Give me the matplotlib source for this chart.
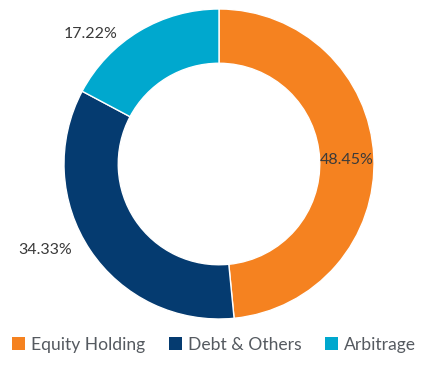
import matplotlib.pyplot as plt
from matplotlib.patches import Patch

# Dados
categorias = ["Equity Holding", "Debt & Others", "Arbitrage"]
valores = [48.45, 34.33, 17.22]
rotulos = ["48.45%", "34.33%", "17.22%"]
cores = ["#F58220", "#053B70", "#00A8CE"]

plt.rcParams['font.family'] = ['Lato', 'DejaVu Sans']

fig = plt.figure(figsize=(4.28, 3.74), dpi=100)
ax = fig.add_axes([0, 0, 1, 1])

cx, cy, r = 219, 374 - 164, 155
ax.pie(valores, colors=cores, startangle=90, counterclock=False,
       center=(cx, cy), radius=r,
       wedgeprops=dict(width=r * 0.35, edgecolor='white', linewidth=1))

ax.set_xlim(0, 428)
ax.set_ylim(0, 374)
ax.set_aspect('equal')
ax.axis('off')

# Rótulos de porcentagem
posicoes = [(347, 374 - 160), (45, 374 - 250), (91, 374 - 34)]
for (x, y), txt in zip(posicoes, rotulos):
    ax.text(x, y, txt, ha='center', va='center', fontsize=11.5, color='#3a3a3a')

# Legenda
handles = [Patch(facecolor=c, edgecolor='none') for c in cores]
fig.legend(handles, categorias, loc='center', bbox_to_anchor=(214 / 428, 1 - 345 / 374),
           ncol=3, frameon=False, fontsize=12.6, labelcolor='#555a60',
           handlelength=0.75, handleheight=0.75, handletextpad=0.35, columnspacing=1.35)

plt.savefig("out.png", dpi=100)
